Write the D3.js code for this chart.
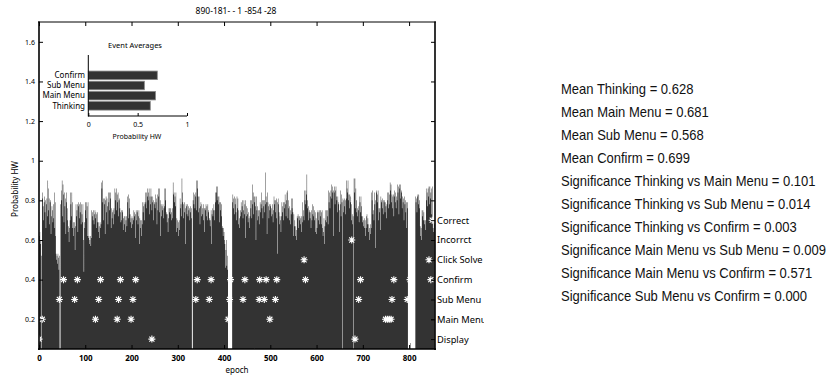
<!DOCTYPE html>
<html>
<head>
<meta charset="utf-8">
<style>
  body { margin: 0; background: #fff; }
  svg { display: block; font-family: "Noto Sans", sans-serif; }
  .stats text { font-family: "Liberation Sans", Arial, sans-serif; font-size: 14px; fill: #111; }
</style>
</head>
<body>
<script src="https://cdn.jsdelivr.net/npm/d3@7"></script>
<script>
// probability HW per epoch (epochs 1..855)
var probHW = [
  0.62,0.64,0.58,0.60,0.00,0.52,0.81,0.84,0.77,0.70,
  0.79,0.82,0.74,0.80,0.66,0.78,0.81,0.72,0.90,0.86,
  0.75,0.81,0.68,0.79,0.80,0.63,0.72,0.77,0.75,0.69,
  0.78,0.71,0.66,0.84,0.79,0.62,0.53,0.50,0.52,0.48,
  0.53,0.51,0.45,0.52,0.00,0.00,0.78,0.85,0.80,0.90,
  0.72,0.88,0.83,0.69,0.84,0.77,0.81,0.63,0.79,0.84,
  0.76,0.70,0.64,0.67,0.59,0.66,0.70,0.84,0.78,0.72,
  0.84,0.66,0.79,0.69,0.62,0.66,0.69,0.55,0.67,0.78,
  0.72,0.75,0.78,0.64,0.77,0.79,0.71,0.78,0.74,0.79,
  0.68,0.78,0.73,0.69,0.78,0.60,0.44,0.69,0.66,0.79,
  0.75,0.79,0.71,0.77,0.62,0.79,0.61,0.62,0.58,0.60,
  0.62,0.57,0.61,0.75,0.72,0.74,0.70,0.75,0.68,0.73,
  0.75,0.71,0.74,0.66,0.73,0.74,0.69,0.64,0.69,0.67,
  0.61,0.69,0.66,0.68,0.89,0.86,0.90,0.79,0.70,0.81,
  0.78,0.81,0.63,0.80,0.82,0.74,0.81,0.77,0.68,0.84,
  0.79,0.84,0.75,0.81,0.84,0.66,0.76,0.71,0.74,0.75,
  0.68,0.76,0.73,0.86,0.80,0.84,0.75,0.86,0.83,0.79,
  0.84,0.72,0.80,0.81,0.76,0.74,0.69,0.75,0.70,0.74,
  0.75,0.65,0.71,0.72,0.68,0.72,0.64,0.70,0.72,0.67,
  0.82,0.79,0.83,0.71,0.76,0.81,0.73,0.69,0.71,0.66,
  0.72,0.68,0.71,0.70,0.75,0.72,0.74,0.61,0.73,0.75,
  0.70,0.74,0.75,0.68,0.72,0.75,0.58,0.71,0.70,0.66,
  0.70,0.62,0.68,0.79,0.74,0.77,0.79,0.70,0.78,0.84,
  0.79,0.84,0.76,0.82,0.86,0.80,0.84,0.86,0.73,0.82,
  0.78,0.86,0.82,0.75,0.79,0.82,0.70,0.80,0.78,0.79,
  0.76,0.83,0.79,0.81,0.68,0.83,0.75,0.86,0.82,0.74,
  0.86,0.80,0.62,0.78,0.72,0.77,0.75,0.78,0.71,0.76,
  0.77,0.86,0.80,0.86,0.73,0.74,0.69,0.73,0.64,0.71,
  0.76,0.74,0.76,0.73,0.76,0.70,0.74,0.76,0.71,0.89,
  0.83,0.84,0.79,0.82,0.77,0.84,0.64,0.71,0.70,0.66,
  0.69,0.62,0.70,0.65,0.81,0.76,0.78,0.72,0.91,0.84,
  0.79,0.71,0.78,0.79,0.74,0.76,0.58,0.78,0.77,0.73,
  0.78,0.72,0.77,0.75,0.76,0.70,0.77,0.74,0.76,0.71,
  0.00,0.00,0.80,0.84,0.78,0.83,0.76,0.82,0.84,0.75,
  0.90,0.86,0.90,0.82,0.74,0.82,0.76,0.68,0.77,0.79,
  0.72,0.78,0.76,0.73,0.78,0.70,0.76,0.64,0.76,0.75,
  0.78,0.72,0.77,0.70,0.78,0.74,0.75,0.71,0.70,0.67,
  0.70,0.75,0.58,0.73,0.76,0.72,0.75,0.78,0.70,0.75,
  0.84,0.79,0.84,0.87,0.80,0.87,0.82,0.78,0.82,0.69,
  0.79,0.75,0.79,0.72,0.78,0.66,0.67,0.62,0.66,0.64,
  0.60,0.58,0.46,0.55,0.60,0.47,0.52,0.45,0.00,0.00,
  0.00,0.00,0.00,0.00,0.00,0.00,0.00,0.79,0.83,0.76,
  0.81,0.73,0.82,0.78,0.81,0.74,0.70,0.82,0.76,0.81,
  0.68,0.75,0.71,0.66,0.75,0.72,0.79,0.74,0.77,0.80,
  0.71,0.75,0.80,0.73,0.78,0.61,0.80,0.77,0.72,0.76,
  0.73,0.69,0.74,0.71,0.66,0.72,0.80,0.76,0.80,0.71,
  0.78,0.88,0.84,0.73,0.82,0.79,0.82,0.77,0.60,0.82,
  0.75,0.77,0.70,0.75,0.72,0.68,0.75,0.79,0.74,0.78,
  0.84,0.76,0.80,0.71,0.80,0.77,0.80,0.74,0.78,0.94,
  0.82,0.79,0.63,0.84,0.79,0.77,0.71,0.78,0.75,0.77,
  0.78,0.72,0.76,0.73,0.78,0.69,0.75,0.82,0.78,0.80,
  0.74,0.80,0.81,0.71,0.79,0.53,0.81,0.78,0.74,0.68,
  0.72,0.70,0.64,0.72,0.79,0.74,0.77,0.79,0.70,0.79,
  0.76,0.83,0.78,0.72,0.80,0.84,0.85,0.71,0.80,0.76,
  0.77,0.70,0.75,0.68,0.73,0.81,0.76,0.81,0.74,0.62,
  0.73,0.67,0.70,0.62,0.67,0.65,0.60,0.72,0.71,0.73,
  0.66,0.72,0.70,0.72,0.68,0.71,0.72,0.64,0.69,0.79,
  0.72,0.75,0.70,0.85,0.80,0.78,0.85,0.83,0.93,0.76,
  0.80,0.70,0.77,0.74,0.75,0.71,0.74,0.66,0.75,0.70,
  0.78,0.73,0.77,0.72,0.75,0.70,0.74,0.64,0.71,0.63,
  0.66,0.74,0.75,0.70,0.74,0.68,0.75,0.72,0.75,0.68,
  0.74,0.75,0.66,0.62,0.64,0.71,0.58,0.67,0.70,0.75,
  0.69,0.75,0.72,0.75,0.68,0.85,0.79,0.84,0.76,0.82,
  0.85,0.88,0.81,0.84,0.87,0.62,0.85,0.84,0.87,0.78,
  0.85,0.87,0.82,0.80,0.74,0.82,0.78,0.79,0.64,0.75,
  0.78,0.85,0.72,0.83,0.79,0.00,0.81,0.74,0.80,0.81,
  0.77,0.80,0.73,0.81,0.90,0.86,0.84,0.90,0.80,0.83,
  0.76,0.83,0.79,0.82,0.70,0.78,0.73,0.68,0.72,0.00,
  0.91,0.84,0.91,0.76,0.86,0.80,0.74,0.76,0.72,0.77,
  0.75,0.69,0.82,0.79,0.74,0.82,0.77,0.72,0.69,0.72,
  0.70,0.67,0.71,0.66,0.70,0.62,0.66,0.72,0.73,0.68,
  0.71,0.64,0.68,0.66,0.60,0.68,0.63,0.66,0.84,0.80,
  0.85,0.73,0.75,0.70,0.84,0.78,0.80,0.56,0.84,0.85,
  0.79,0.83,0.85,0.70,0.76,0.74,0.76,0.65,0.82,0.79,
  0.80,0.76,0.81,0.73,0.80,0.79,0.80,0.74,0.79,0.77,
  0.71,0.78,0.84,0.80,0.76,0.84,0.78,0.83,0.89,0.85,
  0.88,0.79,0.83,0.76,0.82,0.83,0.72,0.82,0.85,0.79,
  0.84,0.76,0.82,0.80,0.88,0.84,0.87,0.73,0.88,0.86,
  0.88,0.81,0.85,0.84,0.76,0.82,0.79,0.81,0.70,0.82,
  0.78,0.80,0.74,0.79,0.66,0.79,0.76,0.00,0.00,0.00,
  0.00,0.00,0.08,0.00,0.00,0.00,0.00,0.00,0.00,0.00,
  0.00,0.00,0.00,0.82,0.79,0.81,0.74,0.82,0.83,0.78,
  0.83,0.80,0.76,0.67,0.62,0.66,0.60,0.75,0.72,0.75,
  0.70,0.74,0.68,0.70,0.65,0.70,0.86,0.80,0.84,0.77,
  0.86,0.82,0.87,0.78,0.87,0.81,0.84,0.73,0.86,0.87,
  0.69,0.66,0.64,0.69,0.68
];

// event markers: epochs where each event happened
var eventNames  = ['Display', 'Main Menu', 'Sub Menu', 'Confirm', 'Click Solve', 'Incorrct', 'Correct'];
var eventLevels = [0.1, 0.2, 0.3, 0.4, 0.5, 0.6, 0.7];
var displayEpochs    = [0, 244, 683];
var mainMenuEpochs   = [7, 122, 169, 199, 409, 499, 749, 753, 757, 761];
var subMenuEpochs    = [44, 77, 129, 172, 203, 339, 368, 412, 441, 476, 487, 511, 691, 763, 796];
var confirmEpochs    = [53, 83, 133, 176, 209, 342, 372, 414, 445, 477, 491, 514, 576, 695, 767, 802, 847];
var clickSolveEpochs = [573, 843];
var incorrectEpochs  = [676];
var correctEpochs    = [850];
var eventEpochs = [displayEpochs, mainMenuEpochs, subMenuEpochs, confirmEpochs,
                   clickSolveEpochs, incorrectEpochs, correctEpochs];

// inset: event averages
var avgCategories = ['Thinking', 'Main Menu', 'Sub Menu', 'Confirm'];
var avgValues     = [0.628, 0.681, 0.568, 0.699];

var xTicks = [0, 100, 200, 300, 400, 500, 600, 700, 800];
var yTicks = [0.2, 0.4, 0.6, 0.8, 1, 1.2, 1.4, 1.6];
var insetTicks = [0, 0.5, 1];

var statLines = [
  'Mean Thinking = 0.628',
  'Mean Main Menu = 0.681',
  'Mean Sub Menu = 0.568',
  'Mean Confirm = 0.699',
  'Significance Thinking vs Main Menu = 0.101',
  'Significance Thinking vs Sub Menu = 0.014',
  'Significance Thinking vs Confirm = 0.003',
  'Significance Main Menu vs Sub Menu = 0.009',
  'Significance Main Menu vs Confirm = 0.571',
  'Significance Sub Menu vs Confirm = 0.000'
];

var svg = d3.select('body').append('svg')
            .attr('width', 829)
            .attr('height', 376);

var x = d3.scaleLinear().domain([0, 856]).range([39, 435]);
var y = d3.scaleLinear().domain([0.05, 1.7]).range([349, 22]);

var defs = svg.append('defs');
defs.append('clipPath').attr('id', 'plot')
    .append('rect').attr('x', 39).attr('y', 22).attr('width', 396).attr('height', 327);
defs.append('clipPath').attr('id', 'rlab')
    .append('rect').attr('x', 425).attr('y', 0).attr('width', 59).attr('height', 376);

// bars drawn as one path so neighbouring bars don't leave seams
var bars = d3.path();
probHW.forEach(function(v, i) {
    if (v <= 0) return;
    var e = i + 1;
    bars.rect(x(e - 0.5), y(v), x(e + 0.5) - x(e - 0.5), y(0.05) - y(v));
});
svg.append('path')
   .attr('d', bars.toString())
   .attr('fill', '#333')
   .attr('clip-path', 'url(#plot)');

// asterisk marker like matlab '*'
var asterisk = {
    draw: function(ctx, size) {
        var r = Math.sqrt(size) / 2, d = r * 0.72;
        ctx.moveTo(-r, 0); ctx.lineTo(r, 0);
        ctx.moveTo(0, -r); ctx.lineTo(0, r);
        ctx.moveTo(-d, -d); ctx.lineTo(d, d);
        ctx.moveTo(-d, d); ctx.lineTo(d, -d);
    }
};
var marks = [];
eventEpochs.forEach(function(list, k) {
    list.forEach(function(e) { marks.push({epoch: e, level: eventLevels[k]}); });
});
svg.append('g').selectAll('path')
   .data(marks)
   .enter()
   .append('path')
   .attr('transform', function(d) { return 'translate(' + x(d.epoch) + ',' + y(d.level) + ')'; })
   .attr('d', d3.symbol().type(asterisk).size(49))
   .attr('fill', 'none')
   .attr('stroke', '#fff')
   .attr('stroke-width', 1.1);

// axes
function clean(g, size) {
    g.select('.domain').remove();
    g.attr('font-family', null).attr('font-size', size);
    g.selectAll('text').attr('fill', '#000');
}

svg.append('g').attr('transform', 'translate(39,0)')
   .call(d3.axisLeft(y).tickValues(yTicks).tickSize(-4).tickPadding(4).tickFormat(d3.format('~g')))
   .call(clean, 7);

svg.append('g').attr('transform', 'translate(435,0)')
   .call(d3.axisRight(y).tickValues(yTicks).tickSize(-4).tickFormat(''))
   .call(clean, 7);

svg.append('g').attr('clip-path', 'url(#rlab)')
   .append('g').attr('transform', 'translate(435,0)')
   .call(d3.axisRight(y).tickValues(eventLevels).tickSize(-4).tickPadding(2)
           .tickFormat(function(d, i) { return eventNames[i]; }))
   .call(clean, 9.3);

svg.append('g').attr('transform', 'translate(0,349)')
   .call(d3.axisBottom(x).tickValues(xTicks).tickSize(-4).tickPadding(6.5).tickFormat(d3.format('d')))
   .call(clean, 8)
   .attr('font-weight', 'bold');

svg.append('g').attr('transform', 'translate(0,22)')
   .call(d3.axisTop(x).tickValues(xTicks).tickSize(-4).tickFormat(''))
   .call(clean, 8);

// frame
svg.append('line').attr('x1', 39).attr('x2', 39).attr('y1', 21.5).attr('y2', 350)
   .attr('stroke', '#000').attr('stroke-width', 1.6);
svg.append('line').attr('x1', 38).attr('x2', 436).attr('y1', 349).attr('y2', 349)
   .attr('stroke', '#000').attr('stroke-width', 1.6);
svg.append('line').attr('x1', 435).attr('x2', 435).attr('y1', 21.5).attr('y2', 350)
   .attr('stroke', '#000').attr('stroke-width', 1.6);
svg.append('line').attr('x1', 38).attr('x2', 436).attr('y1', 22).attr('y2', 22)
   .attr('stroke', '#000').attr('stroke-width', 1);

// labels
svg.append('text').attr('x', 236).attr('y', 14).attr('text-anchor', 'middle')
   .attr('font-size', 8.5).text('890-181- - 1 -854 -28');
svg.append('text').attr('x', 237).attr('y', 373).attr('text-anchor', 'middle')
   .attr('font-size', 8).text('epoch');
svg.append('text').attr('transform', 'translate(18,189) rotate(-90)').attr('text-anchor', 'middle')
   .attr('font-size', 8).text('Probability HW');

// inset bar chart
var ix = d3.scaleLinear().domain([0, 1]).range([88.3, 187]);
var iy = d3.scaleLinear().domain([0, 6]).range([116, 55]);

svg.append('text').attr('x', 135).attr('y', 47.5).attr('text-anchor', 'middle')
   .attr('font-size', 7.5).text('Event Averages');

svg.append('g').selectAll('rect')
   .data(avgValues)
   .enter()
   .append('rect')
   .attr('x', ix(0))
   .attr('y', function(d, i) { return iy(i + 1 + 0.42); })
   .attr('width', function(d) { return ix(d) - ix(0); })
   .attr('height', iy(0) - iy(0.84))
   .attr('fill', '#333')
   .attr('stroke', '#888')
   .attr('stroke-width', 0.8);

svg.append('g').selectAll('text')
   .data(avgCategories)
   .enter()
   .append('text')
   .attr('x', 85)
   .attr('y', function(d, i) { return iy(i + 1); })
   .attr('dy', '0.35em')
   .attr('text-anchor', 'end')
   .attr('font-size', 8)
   .text(function(d) { return d; });

svg.append('g').attr('transform', 'translate(0,116)')
   .call(d3.axisBottom(ix).tickValues(insetTicks).tickSize(-3).tickPadding(6.5).tickFormat(d3.format('~g')))
   .call(clean, 7);
svg.append('line').attr('x1', 88.3).attr('x2', 88.3).attr('y1', 55).attr('y2', 116.5)
   .attr('stroke', '#000').attr('stroke-width', 1);
svg.append('line').attr('x1', 88).attr('x2', 187).attr('y1', 116).attr('y2', 116)
   .attr('stroke', '#000').attr('stroke-width', 1);
svg.append('text').attr('x', 137).attr('y', 138.5).attr('text-anchor', 'middle')
   .attr('font-size', 7).text('Probability HW');

// stats text (slightly condensed, like the original export)
svg.append('g').attr('class', 'stats').selectAll('text')
   .data(statLines)
   .enter()
   .append('text')
   .attr('transform', function(d, i) { return 'translate(561,' + (94 + i * 23) + ') scale(0.93,1)'; })
   .text(function(d) { return d; });
</script>
</body>
</html>
